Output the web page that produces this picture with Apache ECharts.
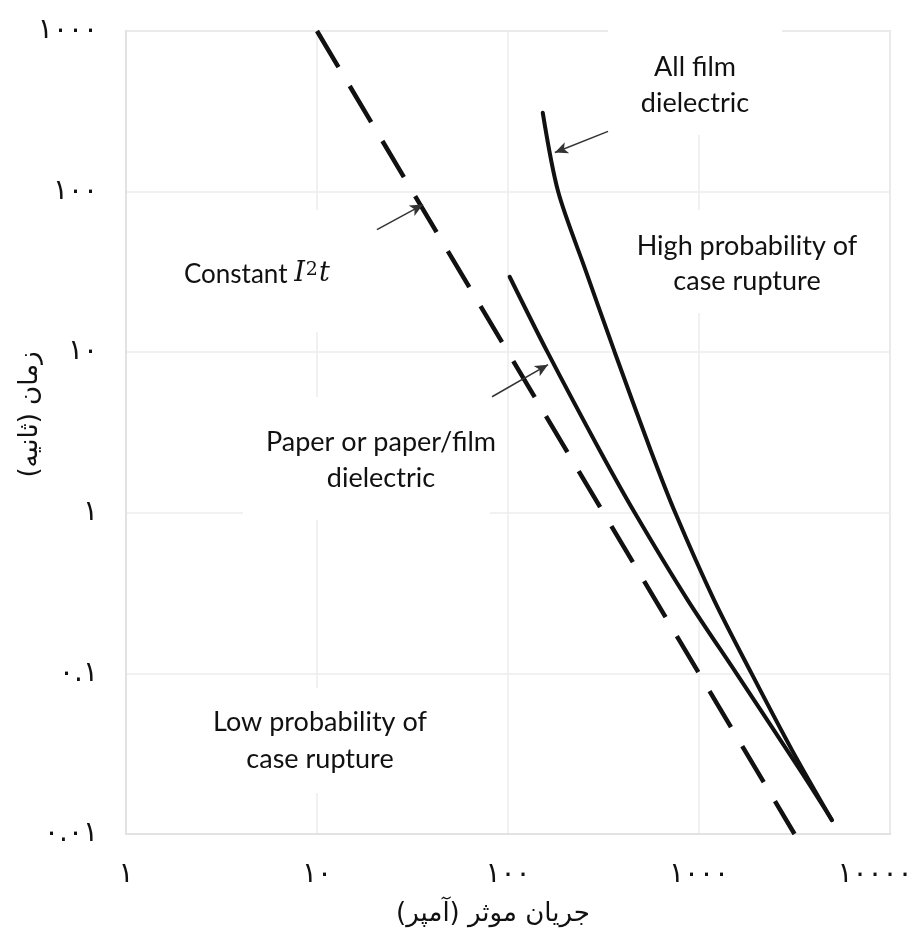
<!DOCTYPE html>
<html>
<head>
<meta charset="utf-8">
<script src="https://cdn.jsdelivr.net/npm/echarts@6/dist/echarts.min.js"></script>
<style>
html,body{margin:0;padding:0;background:#fff;}
#chart{width:917px;height:944px;}
</style>
</head>
<body>
<div id="chart"></div>
<script>
// ---- data ----
const xTickValues = [1, 10, 100, 1000, 10000];
const xTickLabels = ['۱', '۱۰', '۱۰۰', '۱۰۰۰', '۱۰۰۰۰'];
const yTickValues = [0.01, 0.1, 1, 10, 100, 1000];
const yTickLabels = ['۰.۰۱', '۰.۱', '۱', '۱۰', '۱۰۰', '۱۰۰۰'];

const xAxisTitle = 'جریان موثر (آمپر)';
const yAxisTitle = 'زمان (ثانیه)';

// Constant I^2 t (dashed)
const constantI2t = [[10, 1000], [3162, 0.01]];
// All film dielectric
const allFilm = [[152, 310], [183, 100], [254, 32.7], [362, 10], [557, 2.47], [751, 1], [1198, 0.287], [1883, 0.1], [3069, 0.0333], [4966, 0.0122]];
// Paper or paper/film dielectric
const paperFilm = [[102, 29.5], [161, 10], [301, 2.47], [461, 1], [871, 0.287], [1570, 0.1], [3461, 0.024], [4966, 0.0122]];

// annotation arrows (from, to) in data units
const arrowConstant = [[20.6, 58], [35.9, 83]];
const arrowAllFilm = [[334, 237], [176, 175]];
const arrowPaper = [[82.5, 5.28], [162, 8.36]];

// ---- chart ----
const RLM = '\u200F';
const chart = echarts.init(document.getElementById('chart'));
const latin = 'Lato, "Open Sans", sans-serif';
const arab = '"DejaVu Sans", sans-serif';

function labelFor(values, labels, v) {
  let best = 0, bd = Infinity;
  for (let i = 0; i < values.length; i++) {
    const d = Math.abs(Math.log10(values[i]) - Math.log10(v));
    if (d < bd) { bd = d; best = i; }
  }
  return labels[best];
}

function arrowLine(pair) {
  return [{ coord: pair[0] }, { coord: pair[1] }];
}

const gridColor = '#ececec';
const borderColor = '#e2e2e2';
const tickFont = 28;

const option = {
  backgroundColor: '#ffffff',
  animation: false,
  grid: { left: 126, right: 27, top: 31, bottom: 110, containLabel: false, outerBoundsMode: 'none', show: true, borderColor: borderColor, borderWidth: 2, backgroundColor: 'transparent' },
  xAxis: {
    type: 'log', logBase: 10, min: 1, max: 10000, splitNumber: 4,
    name: RLM + xAxisTitle + RLM, nameLocation: 'middle', nameGap: 67,
    nameTextStyle: { fontFamily: arab, fontSize: 26, color: '#111', padding: [0, 30, 0, 0] },
    axisLine: { show: true, lineStyle: { color: borderColor, width: 2 } },
    axisTick: { show: false },
    splitLine: { show: true, lineStyle: { color: gridColor, width: 1.5 } },
    axisLabel: {
      margin: 27, fontFamily: arab, fontSize: tickFont, color: '#111',
      formatter: function (v) {
        const s = labelFor(xTickValues, xTickLabels, v);
        return v >= 9999 ? '{r|' + s + '}' : s;
      },
      rich: { r: { fontFamily: arab, fontSize: tickFont, color: '#111', padding: [0, 30, 0, 0] } }
    }
  },
  yAxis: {
    type: 'log', logBase: 10, min: 0.01, max: 1000, splitNumber: 5,
    name: RLM + yAxisTitle + RLM, nameLocation: 'middle', nameGap: 83, nameRotate: 90, nameMoveOverlap: false,
    nameTextStyle: { fontFamily: arab, fontSize: 26, color: '#111', padding: [0, 0, 0, 36] },
    axisLine: { show: true, lineStyle: { color: borderColor, width: 2 } },
    axisTick: { show: false },
    splitLine: { show: true, lineStyle: { color: gridColor, width: 1.5 } },
    axisLabel: {
      margin: 28, fontFamily: arab, fontSize: tickFont, color: '#111',
      formatter: function (v) { return labelFor(yTickValues, yTickLabels, v); }
    }
  },
  series: [
    {
      name: 'Constant I2t', type: 'line', data: constantI2t, showSymbol: false, silent: true, z: 3,
      lineStyle: { color: '#111', width: 4.5, type: [42, 22], cap: 'butt' }
    },
    {
      name: 'All film dielectric', type: 'line', data: allFilm, showSymbol: false, smooth: 0.3, silent: true, z: 3,
      lineStyle: { color: '#111', width: 4, cap: 'round' }
    },
    {
      name: 'Paper or paper/film dielectric', type: 'line', data: paperFilm, showSymbol: false, smooth: 0.3, silent: true, z: 3,
      lineStyle: { color: '#111', width: 4, cap: 'round' },
      markLine: {
        silent: true, symbol: ['none', 'arrow'], symbolSize: [9, 13],
        lineStyle: { color: '#333', width: 1.5, type: 'solid' },
        label: { show: false },
        data: [arrowLine(arrowConstant), arrowLine(arrowAllFilm), arrowLine(arrowPaper)]
      }
    }
  ],
  graphic: [
    // white label boxes (hide gridlines like the original text boxes)
    { type: 'rect', z: 1, shape: { x: 608, y: 28, width: 174, height: 107 }, style: { fill: '#fff' }, silent: true },
    { type: 'rect', z: 1, shape: { x: 667, y: 210, width: 190, height: 103 }, style: { fill: '#fff' }, silent: true },
    { type: 'rect', z: 1, shape: { x: 172, y: 210, width: 205, height: 122 }, style: { fill: '#fff' }, silent: true },
    { type: 'rect', z: 1, shape: { x: 243, y: 397, width: 247, height: 123 }, style: { fill: '#fff' }, silent: true },
    { type: 'rect', z: 1, shape: { x: 205, y: 688, width: 195, height: 105 }, style: { fill: '#fff' }, silent: true },
    // texts
    { type: 'text', z: 5, x: 695, y: 85, style: { text: 'All film\ndielectric', font: '27px ' + latin, fill: '#111', align: 'center', verticalAlign: 'middle', lineHeight: 36 } },
    { type: 'text', z: 5, x: 747, y: 264, style: { text: 'High probability of\ncase rupture', font: '27px ' + latin, fill: '#111', align: 'center', verticalAlign: 'middle', lineHeight: 35 } },
    { type: 'text', z: 5, x: 381, y: 460, style: { text: 'Paper or paper/film\ndielectric', font: '27px ' + latin, fill: '#111', align: 'center', verticalAlign: 'middle', lineHeight: 36 } },
    { type: 'text', z: 5, x: 320, y: 741, style: { text: 'Low probability of\ncase rupture', font: '27px ' + latin, fill: '#111', align: 'center', verticalAlign: 'middle', lineHeight: 37 } },
    {
      type: 'text', z: 5, x: 184, y: 274,
      style: {
        text: '{n|Constant }{i|I}{s|2}{i|t}',
        fill: '#111', align: 'left', verticalAlign: 'middle',
        rich: {
          n: { font: '26px ' + latin, fill: '#111', verticalAlign: 'bottom' },
          i: { font: 'italic 27px "DejaVu Serif", serif', fill: '#111', verticalAlign: 'bottom' },
          s: { font: '19px "DejaVu Serif", serif', fill: '#111', verticalAlign: 'top', padding: [0, 1, 8, 1] }
        }
      }
    }
  ]
};
chart.setOption(option);
</script>
</body>
</html>
